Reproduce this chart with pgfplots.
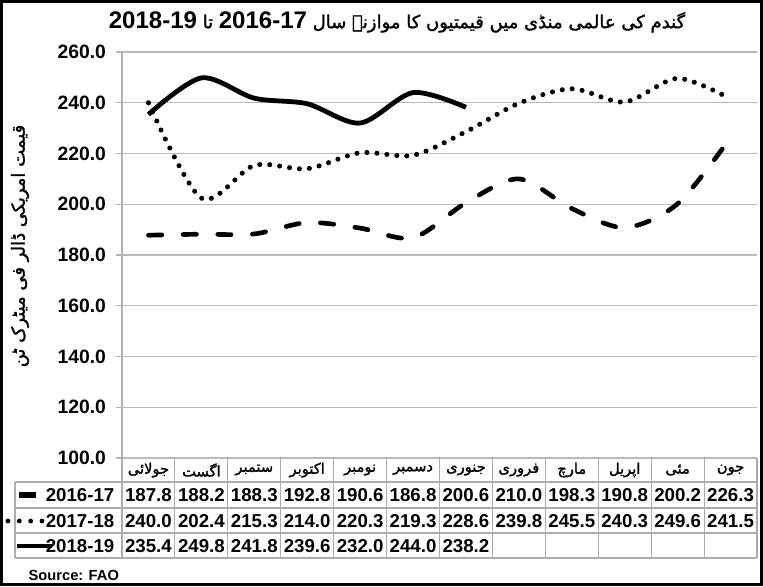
\documentclass[border=0pt]{standalone}
\usepackage{pgfplots}
\usepackage{pgfplotstable}
\pgfplotsset{compat=1.18}
\usepackage{fontspec}
\setmainfont{Liberation Sans}
\newfontfamily\arabicfont[Script=Arabic, BoldFont={DejaVu Sans}, BoldFeatures={FakeBold=1.5}]{DejaVu Sans}
\TeXXeTstate=1

\pgfplotstableread{
x a b
0 187.8 240.0
1 188.2 202.4
2 188.3 215.3
3 192.8 214.0
4 190.6 220.3
5 186.8 219.3
6 200.6 228.6
7 210.0 239.8
8 198.3 245.5
9 190.8 240.3
10 200.2 249.6
11 226.3 241.5
}\dataAB
\pgfplotstableread{
x c
0 235.4
1 249.8
2 241.8
3 239.6
4 232.0
5 244.0
6 238.2
}\dataC

\newcommand\tnum[1]{{\rmfamily\bfseries\fontsize{18}{18}\selectfont #1}}

\begin{document}
\begin{tikzpicture}[x=0.75pt,y=-0.75pt]
\path (0,0) rectangle (763,586);
\begin{axis}[
  at={(91.5pt,-343.5pt)}, anchor=south west,
  width=476.25pt, height=304.5pt, scale only axis,
  xmin=-0.5, xmax=11.5, ymin=100, ymax=260,
  axis x line=none, axis y line*=left,
  y axis line style={gray!60, line width=0.8pt},
  xtick=\empty,
  ytick={100,120,...,260},
  yticklabel style={xshift=-4pt, /pgf/number format/.cd, fixed, fixed zerofill, precision=1, assume math mode=true},
  tick label style={font=\bfseries\fontsize{14.5}{14.5}\selectfont},
  ymajorgrids, major grid style={gray!55, line width=0.8pt},
  tick style={gray!60, line width=0.8pt}, major tick length=4.5pt, tick align=outside,
]
\addplot[black, line width=3.5pt, smooth, line cap=round, dash pattern=on 10pt off 16pt] table[x=x,y=a]{\dataAB};
\addplot[black, line width=3.8pt, smooth, line cap=round, dash pattern=on 0pt off 7.5pt] table[x=x,y=b]{\dataAB};
\addplot[black, line width=3.6pt, smooth] table[x=x,y=c]{\dataC};
\end{axis}

% title
\node[inner sep=0pt] at (397,22) {\arabicfont\bfseries\fontsize{13.5}{13.5}\selectfont\beginR گندم کی عالمی منڈی میں قیمتیوں کا موازنہ سال \beginL\tnum{2016-17}\endL{} تا \beginL\tnum{2018-19}\endL\endR};
% y label
\node[rotate=90, font=\bfseries\fontsize{13.5}{13.5}\selectfont] at (20,246) {\arabicfont\beginR قیمت امریکی ڈالر فی میٹرک ٹن\endR};

% table grid
\begin{scope}[gray!65, line width=0.8pt]
\foreach \k in {0,...,12} \draw ({122+52.917*\k},458) -- ({122+52.917*\k},558);
\foreach \yy in {482,508,533,558} \draw (15,\yy) -- (757,\yy);
\draw (15,482) -- (15,558);
\end{scope}
% months
\foreach \m [count=\i from 0] in {جولائی,اگست,ستمبر,اکتوبر,نومبر,دسمبر,جنوری,فروری,مارچ,اپریل,مئی,جون}
  \node[font=\bfseries\fontsize{11}{11}\selectfont] at ({148.46+52.917*\i},470) {\arabicfont\beginR\m\endR};
% values
\begin{scope}[font=\bfseries\fontsize{14}{14}\selectfont]
\foreach \v [count=\i from 0] in {187.8,188.2,188.3,192.8,190.6,186.8,200.6,210.0,198.3,190.8,200.2,226.3}
  \node at ({148.46+52.917*\i},495.5) {\v};
\foreach \v [count=\i from 0] in {240.0,202.4,215.3,214.0,220.3,219.3,228.6,239.8,245.5,240.3,249.6,241.5}
  \node at ({148.46+52.917*\i},521) {\v};
\foreach \v [count=\i from 0] in {235.4,249.8,241.8,239.6,232.0,244.0,238.2}
  \node at ({148.46+52.917*\i},546) {\v};
\node[anchor=east] at (119,495.5) {2016-17};
\node[anchor=east] at (119,521) {2017-18};
\node[anchor=east] at (119,546) {2018-19};
\end{scope}
% legend keys
\draw[line width=3.8pt] (19,495) -- (36,495);
\draw[line width=3.6pt, line cap=round, dash pattern=on 0pt off 8.5pt] (8,521) -- (42,521);
\draw[line width=3.6pt] (17,546) -- (52,546);

\node[anchor=west, font=\bfseries\fontsize{11}{11}\selectfont] at (24,575) {Source: FAO};

\draw[line width=2.5pt] (1.7,1.7) rectangle (761.3,584.3);
\end{tikzpicture}
\end{document}
